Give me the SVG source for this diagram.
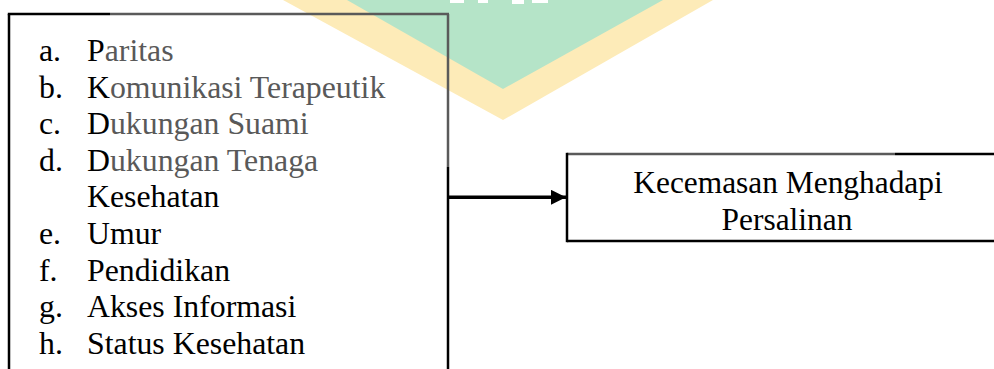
<svg xmlns="http://www.w3.org/2000/svg" width="994" height="369" viewBox="0 0 994 369">
  <style>
    .txt { font-family: "Liberation Serif", "Times New Roman", serif; font-size: 31.8px; fill: #000; }
    .txt-out { font-family: "Liberation Serif", "Times New Roman", serif; font-size: 31.4px; fill: #000; }
    .soft { fill: #595959; }
    .ln { stroke: #000; stroke-width: 2.5; fill: none; }
    .ln-grey { stroke: #5a5a5a; stroke-width: 2.5; fill: none; }
    .conn { stroke: #000; stroke-width: 3.5; fill: none; }
  </style>
  <defs>
    <marker id="arrowhead" viewBox="0 0 15 15" refX="15" refY="7.5" markerWidth="15" markerHeight="15" markerUnits="userSpaceOnUse" orient="auto">
      <path d="M0,0 L15,7.5 L0,15 Z" fill="#000"/>
    </marker>
  </defs>

  <rect width="994" height="369" fill="#fff"/>

  <!-- background emblem: yellow chevron with a green fill -->
  <g id="emblem">
    <polygon points="283,0 713,0 503,120" fill="#fdebb8"/>
    <polygon points="347,0 663,0 503,89" fill="#b5e4c8"/>
    <rect x="450" y="0" width="14" height="3" fill="#fff"/>
    <rect x="478" y="0" width="10" height="3" fill="#fff"/>
    <rect x="512" y="0" width="12" height="4" fill="#fff"/>
    <rect x="532" y="0" width="16" height="3" fill="#fff"/>
  </g>

  <!-- list of factors -->
  <g id="factors">
    <line class="ln" x1="9" y1="14" x2="9" y2="372"/>
    <line class="ln" x1="7.8" y1="14" x2="110" y2="14"/>
    <line class="ln-grey" x1="110" y1="14" x2="449" y2="14"/>
    <line class="ln-grey" x1="448" y1="14" x2="448" y2="167"/>
    <line class="ln" x1="448" y1="167" x2="448" y2="372"/>
    <g class="txt">
      <text x="39" y="61">a.</text>
      <text x="87" y="61">P<tspan class="soft">aritas</tspan></text>
      <text x="39" y="97.6">b.</text>
      <text x="87" y="97.6">K<tspan class="soft">omunikasi Terapeutik</tspan></text>
      <text x="39" y="134.2">c.</text>
      <text x="87" y="134.2">D<tspan class="soft">ukungan Suami</tspan></text>
      <text x="39" y="170.8">d.</text>
      <text x="87" y="170.8">D<tspan class="soft">ukungan Tenaga</tspan></text>
      <text x="87" y="207.4">Kesehatan</text>
      <text x="39" y="244">e.</text>
      <text x="87" y="244">Umur</text>
      <text x="39" y="280.6">f.</text>
      <text x="87" y="280.6">Pendidikan</text>
      <text x="39" y="317.2">g.</text>
      <text x="87" y="317.2">Akses Informasi</text>
      <text x="39" y="353.8">h.</text>
      <text x="87" y="353.8">Status Kesehatan</text>
    </g>
  </g>

  <!-- outcome box -->
  <g id="outcome">
    <line class="ln-grey" x1="567" y1="154" x2="895" y2="154"/>
    <line class="ln" x1="895" y1="154" x2="1000" y2="154"/>
    <line class="ln" x1="567" y1="152.8" x2="567" y2="242.2"/>
    <line class="ln" x1="567" y1="241" x2="1000" y2="241"/>
    <g class="txt-out" text-anchor="middle">
      <text x="788" y="193">Kecemasan Menghadapi</text>
      <text x="787" y="230">Persalinan</text>
    </g>
  </g>

  <!-- connectors -->
  <g id="connectors">
    <line class="conn" x1="449" y1="197.3" x2="566" y2="197.3" marker-end="url(#arrowhead)"/>
  </g>
</svg>
